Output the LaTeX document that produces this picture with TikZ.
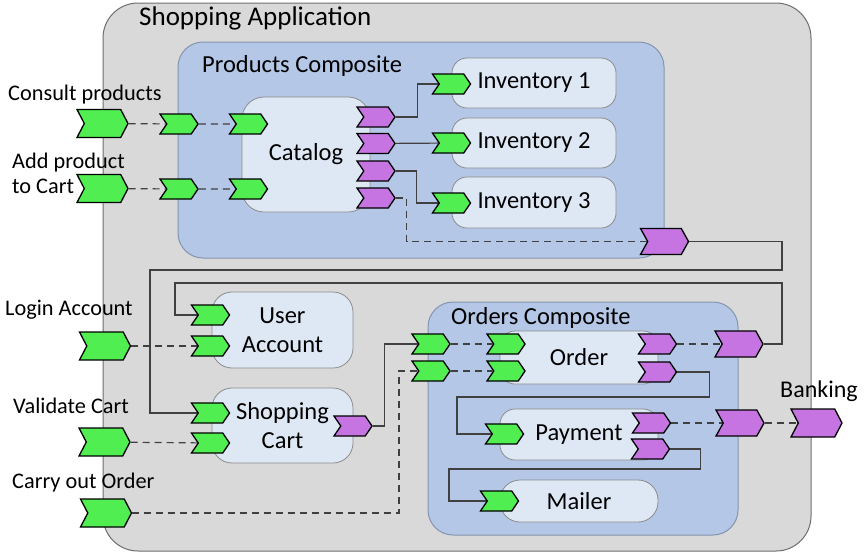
\documentclass[tikz,border=0pt]{standalone}
\usepackage{fontspec}
\setmainfont{Carlito}
\usetikzlibrary{shapes.symbols,calc}
\definecolor{appfill}{HTML}{D9D9D9}
\definecolor{appline}{HTML}{6E6E6E}
\definecolor{compfill}{HTML}{B4C7E7}
\definecolor{compline}{HTML}{8494AE}
\definecolor{partfill}{HTML}{DEE8F5}
\definecolor{partline}{HTML}{8C8C8C}
\definecolor{svcgreen}{HTML}{50EE50}
\definecolor{refpurple}{HTML}{C574E2}
\definecolor{wire}{HTML}{404040}
\begin{document}
\begin{tikzpicture}[x=1pt,y=-1pt,
  font=\fontsize{22.3}{29}\selectfont,
  appbox/.style={draw=appline,line width=1pt,fill=appfill,rounded corners=35pt},
  compbox/.style={draw=compline,line width=1pt,fill=compfill,rounded corners=25pt},
  partbox/.style={draw=partline,line width=0.8pt,fill=partfill,rounded corners=15pt,align=center,
    font=\fontsize{24.5}{29}\selectfont},
  chev/.style={shape=signal,signal to=east,signal from=west,draw=black,line width=1.3pt,inner sep=0pt},
  gbig/.style={chev,fill=svcgreen,minimum width=51pt,minimum height=28pt,signal pointer angle=125},
  gsm/.style={chev,fill=svcgreen,minimum width=38pt,minimum height=20pt,signal pointer angle=112},
  psm/.style={chev,fill=refpurple,minimum width=38pt,minimum height=20pt,signal pointer angle=112},
  pbig/.style={chev,fill=refpurple,minimum width=48pt,minimum height=26pt,signal pointer angle=122},
  lbl/.style={anchor=base west,inner sep=0pt},
  ttl/.style={lbl,font=\fontsize{24.5}{29}\selectfont},
  conn/.style={draw=wire,line width=1.2pt},
  link/.style={conn,dash pattern=on 7pt off 5pt}
]
\useasboundingbox (0,0) rectangle (864,555);

% containers
\node[appbox,minimum width=708pt,minimum height=548pt] (app) at (457,277) {};
\node[lbl,font=\fontsize{27}{29}\selectfont] (apptitle) at (139,25) {Shopping Application};

\node[compbox,minimum width=486pt,minimum height=216pt] (prod) at (421,150) {};
\node[ttl] (prodtitle) at (202,72) {Products Composite};

\node[compbox,minimum width=310pt,minimum height=233pt] (ord) at (583,418.5) {};
\node[ttl] (ordtitle) at (451,324) {Orders Composite};

% components
\node[partbox,rounded corners=22pt,minimum width=128pt,minimum height=115pt] (cat) at (306,154.5) {Catalog};
\node[partbox,minimum width=164pt,minimum height=50pt] (inv1) at (534,83) {Inventory 1};
\node[partbox,minimum width=164pt,minimum height=50pt] (inv2) at (534,143) {Inventory 2};
\node[partbox,minimum width=164pt,minimum height=51pt] (inv3) at (534,202.5) {Inventory 3};
\node[partbox,rounded corners=20pt,minimum width=141pt,minimum height=76pt] (ua) at (282.5,330) {User\\Account};
\node[partbox,rounded corners=20pt,minimum width=141pt,minimum height=75pt] (sc) at (282.5,425.5) {Shopping\\Cart};
\node[partbox,minimum width=158pt,minimum height=53pt] (order) at (579,357.5) {Order};
\node[partbox,minimum width=158pt,minimum height=51pt] (pay) at (579,434.5) {Payment};
\node[partbox,rounded corners=20pt,minimum width=158pt,minimum height=42pt] (mail) at (579,501) {Mailer};

% external labels
\node[lbl] (l1) at (8,100) {Consult products};
\node[lbl] (l2a) at (12,168) {Add product};
\node[lbl] (l2b) at (12,193) {to Cart};
\node[lbl] (l3) at (5,315) {Login Account};
\node[lbl] (l4) at (13,413) {Validate Cart};
\node[lbl] (l5) at (12,488) {Carry out Order};
\node[lbl,font=\fontsize{24}{29}\selectfont] (l6) at (780,397) {Banking};

% services and references
\node[gbig] (e1) at (102.5,123.5) {};
\node[gbig] (e2) at (102.5,188.5) {};
\node[gbig] (e3) at (105,346) {};
\node[gbig] (e4) at (104.5,442) {};
\node[gbig] (e5) at (106,513) {};

\node[gsm] (pg1) at (179,124) {};
\node[gsm] (pg2) at (179,189) {};
\node[gsm] (cg1) at (248.5,124) {};
\node[gsm] (cg2) at (248.5,189) {};
\node[psm] (cp1) at (376,117) {};
\node[psm] (cp2) at (376,143.5) {};
\node[psm] (cp3) at (376,171) {};
\node[psm] (cp4) at (376,198) {};
\node[gsm] (ig1) at (451.5,84) {};
\node[gsm] (ig2) at (451.5,143) {};
\node[gsm] (ig3) at (451.5,203) {};
\node[pbig] (pr) at (664.5,241.5) {};

\node[gsm] (ug1) at (210.5,315) {};
\node[gsm] (ug2) at (210.5,346) {};
\node[gsm] (sg1) at (210.5,413) {};
\node[gsm] (sg2) at (210.5,443) {};
\node[psm] (sp) at (353,426) {};

\node[gsm] (og1) at (431,344) {};
\node[gsm] (og2) at (431,371) {};
\node[gsm] (rg1) at (506,344) {};
\node[gsm] (rg2) at (506,371) {};
\node[psm] (rp1) at (657.5,344) {};
\node[psm] (rp2) at (657.5,372) {};
\node[pbig] (or1) at (739,344) {};
\node[gsm] (yg) at (504.5,434) {};
\node[psm] (yp1) at (651.5,423) {};
\node[psm] (yp2) at (650.5,449) {};
\node[pbig] (or2) at (740,423) {};
\node[gbig,fill=refpurple] (bank) at (816.5,423) {};
\node[gsm] (mg) at (499.5,501) {};

% route corners
\coordinate (ra) at (782,270);
\coordinate (rb) at (150,270);
\coordinate (rc) at (782,283);
\coordinate (rd) at (175,283);
\coordinate (re) at (457,397);
\coordinate (rf) at (449,469);

% promotions (dashed)
\draw[link] (e1) -- (pg1) (pg1) -- (cg1);
\draw[link] (e2) -- (pg2) (pg2) -- (cg2);
\draw[link] (cp4.east) -- ++(11,0) |- (pr);
\draw[link] (e3) -- (ug2);
\draw[link] (e4) -- (sg2);
\draw[link] (e5) -| ($(og2)+(-32,0)$) -- (og2);
\draw[link] (og1) -- (rg1);
\draw[link] (og2) -- (rg2);
\draw[link] (rp1) -- (or1);
\draw[link] (yp1) -- (or2) (or2) -- (bank);

% wires (solid)
\draw[conn] (cp1.east) -- ++(22,0) |- (ig1);
\draw[conn] (cp2) -- (ig2);
\draw[conn] (cp3.east) -- ++(21,0) |- (ig3);
\draw[conn] (pr) -| (ra) -- (rb) |- (sg1);
\draw[conn] (or1) -| (rc) -- (rd) |- (ug1);
\draw[conn] (sp.east) -- ++(12,0) |- (og1);
\draw[conn] (rp2.east) -- ++(32,0) |- (re) |- (yg);
\draw[conn] (yp2.east) -- ++(30,0) |- (rf) |- (mg);
\end{tikzpicture}
\end{document}
